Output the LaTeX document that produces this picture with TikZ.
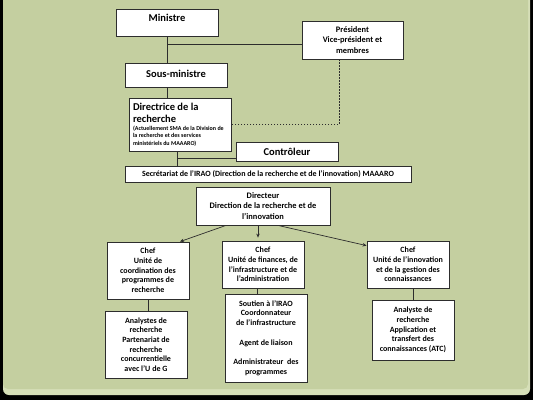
\documentclass[tikz,border=0pt]{standalone}
\usepackage{fontspec}
\setmainfont{Carlito}
\usetikzlibrary{arrows.meta}
\definecolor{slidegreen}{RGB}{196,207,160}
\definecolor{slidelight}{RGB}{214,223,184}
\definecolor{linegray}{RGB}{45,45,45}
\tikzset{
  box/.style={draw=linegray, fill=white, line width=0.8pt, inner sep=1pt, align=center,
    font=\bfseries\fontsize{8}{9.7}\selectfont},
  bigtext/.style={font=\bfseries\fontsize{10.5}{12}\selectfont},
  midtext/.style={font=\bfseries\fontsize{8.4}{10.6}\selectfont},
  conn/.style={draw=linegray, line width=0.7pt},
  arr/.style={conn, -{Stealth[length=4pt,width=3.5pt]}}
}
\begin{document}
\begin{tikzpicture}[x=1pt,y=-1pt]
\useasboundingbox (0,0) rectangle (533,400);
% slide background
\fill[black] (0,0) rectangle (533,400);
\fill[slidelight, rounded corners=6pt] (3,-10) rectangle (530,395);
\fill[slidegreen, rounded corners=5pt] (3,-10) rectangle (528,389);

% boxes
\node[box, bigtext, minimum width=102pt, minimum height=27pt, inner sep=0pt, text height=12pt, text depth=15pt] (ministre) at (167,22.5) {Ministre};
\node[box, midtext, minimum width=101pt, minimum height=38pt] (president) at (352.5,40) {Président\\Vice-président et\\membres};
\node[box, bigtext, minimum width=102pt, minimum height=24pt, inner sep=0pt, text height=14pt, text depth=10pt] (sousmin) at (176,75) {Sous-ministre};
\node[box, align=flush left, text width=94pt, inner xsep=4pt, inner ysep=1pt, minimum height=53pt] (directrice) at (180,124.5)
  {\fontsize{10.5}{12.3}\selectfont Directrice de la\\recherche\par
   \fontsize{6}{7.5}\selectfont (Actuellement SMA de la Division de\\la recherche et des services\\ministériels du MAAARO)\par};
\node[box, bigtext, minimum width=102pt, minimum height=19pt] (controleur) at (287,151.5) {Contrôleur};
\node[box, font=\bfseries\fontsize{8}{10}\selectfont, minimum width=286pt, minimum height=16pt] (secr) at (268,174) {Secrétariat de l’IRAO (Direction de la recherche et de l’innovation) MAAARO};
\node[box, midtext, minimum width=134pt, minimum height=38pt] (directeur) at (263,206) {Directeur\\Direction de la recherche et de\\l’innovation};
\node[box, minimum width=82pt, minimum height=57pt] (chef1) at (148,270.5) {Chef\\Unité de\\coordination des\\programmes de\\recherche};
\node[box, minimum width=82pt, minimum height=47pt] (chef2) at (263,264.5) {Chef\\Unité de finances, de\\l’infrastructure et de\\l’administration};
\node[box, minimum width=82pt, minimum height=47pt] (chef3) at (408,264.5) {Chef\\Unité de l’innovation\\et de la gestion des\\connaissances};
\node[box, minimum width=82pt, minimum height=67pt] (anal1) at (146,344.5) {Analystes de\\recherche\\Partenariat de\\recherche\\concurrentielle\\avec l’U de G};
\node[box, minimum width=82pt, minimum height=88pt] (soutien) at (266,338) {Soutien à l’IRAO\\Coordonnateur\\de l’infrastructure\\[9.7pt]Agent de liaison\\[9.7pt]Administrateur~ des\\programmes};
\node[box, minimum width=82pt, minimum height=60pt] (anal3) at (413,330) {Analyste de\\recherche\\Application et\\transfert des\\connaissances (ATC)};

% helper points
\coordinate (presin) at ([yshift=-4pt]president.west);
\coordinate (ctrlin) at ([yshift=-6.5pt]controleur.west);
\coordinate (dirout) at ([xshift=-3pt]directrice.south);

% connectors
\draw[conn] (ministre.south) -- (ministre.south |- sousmin.north);
\draw[conn] (ministre.south |- presin) -- (presin);
\draw[conn] (ministre.south |- sousmin.south) -- (ministre.south |- directrice.north);
\draw[conn, dash pattern=on 1.5pt off 1.5pt] ([xshift=-13.5pt]president.south) |- (directrice.east);
\draw[conn] (dirout) -- (dirout |- secr.north);
\draw[conn] (dirout |- ctrlin) -- (ctrlin);
\draw[arr] ([xshift=-37pt]directeur.south) -- ([xshift=32pt]chef1.north);
\draw[arr] ([xshift=-5pt]directeur.south) -- ([xshift=-5pt,yshift=3pt]chef2.north);
\draw[arr] ([xshift=15pt]directeur.south) -- ([yshift=-5pt]chef3.north west);
\draw[conn] (chef1.south) -- (chef1.south |- anal1.north);
\draw[conn] ([xshift=-6pt]chef2.south) -- ([xshift=-6pt]chef2.south |- soutien.north);
\draw[conn] (anal3.north) -- (anal3.north |- chef3.south);
\end{tikzpicture}
\end{document}
